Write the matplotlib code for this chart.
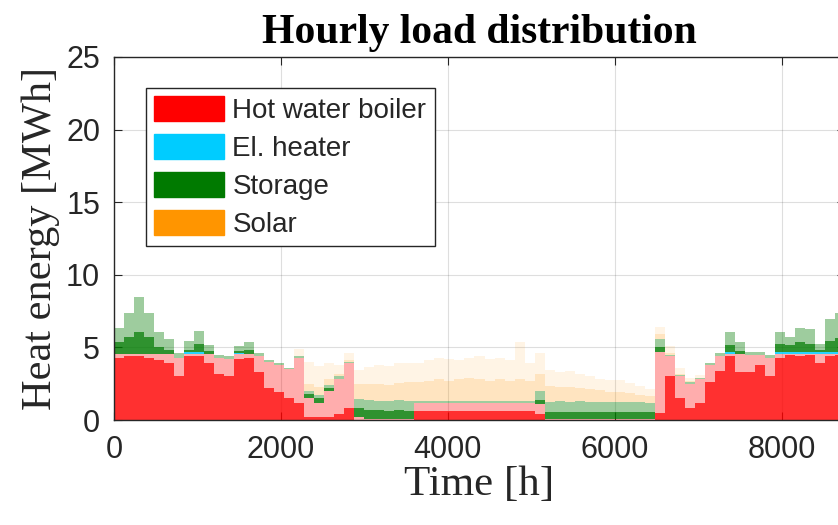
import numpy as np
import matplotlib.pyplot as plt
from matplotlib.patches import Patch

plt.rcParams['font.family'] = 'Liberation Sans'

# five-day blocks over one year (73 x 120 h)
hours = np.arange(0, 8761, 120)

# hot water boiler: dense level and spike level per block [MWh]
boiler_lo = np.array([
    4.3, 4.4, 4.4, 4.3, 4.1, 3.9, 3.0, 4.4, 4.4, 3.9,
    3.2, 3.0, 4.2, 4.3, 3.3, 2.2, 1.9, 1.5, 1.2, 0.2,
    0.2, 0.2, 0.4, 0.8, 0.0, 0.0, 0.0, 0.0, 0.0, 0.0,
    0.6, 0.6, 0.6, 0.6, 0.6, 0.6, 0.6, 0.6, 0.6, 0.6,
    0.6, 0.6, 0.4, 0.0, 0.0, 0.0, 0.0, 0.0, 0.0, 0.0,
    0.0, 0.0, 0.0, 0.0, 0.5, 3.0, 1.5, 0.8, 1.2, 2.6,
    3.4, 4.4, 3.3, 3.3, 3.8, 3.0, 4.3, 4.45, 4.4, 4.45,
    3.9, 4.4, 4.45])
boiler_hi = np.array([
    4.55, 4.55, 4.55, 4.55, 4.55, 4.55, 4.3, 4.55, 4.55, 4.55,
    4.3, 4.2, 4.55, 4.55, 4.4, 4.0, 3.8, 3.5, 4.3, 1.5,
    1.2, 2.0, 2.8, 3.9, 0.2, 0.1, 0.1, 0.1, 0.1, 0.1,
    1.2, 1.2, 1.2, 1.2, 1.2, 1.2, 1.2, 1.2, 1.2, 1.2,
    1.2, 1.2, 1.1, 0.05, 0.05, 0.05, 0.05, 0.05, 0.05, 0.05,
    0.05, 0.05, 0.05, 0.05, 4.7, 4.4, 3.0, 2.5, 2.8, 3.8,
    4.4, 4.55, 4.55, 4.5, 4.5, 4.3, 4.55, 4.55, 4.55, 4.55,
    4.55, 4.55, 4.55])

# electric heater
heater = np.array([
    0, 0, 0, 0, 0, 0, 0, 0.1, 0.1, 0,
    0, 0, 0.08, 0, 0, 0, 0, 0, 0, 0,
    0, 0, 0, 0, 0, 0, 0, 0, 0, 0,
    0, 0, 0, 0, 0, 0, 0, 0, 0, 0,
    0, 0, 0, 0, 0, 0, 0, 0, 0, 0,
    0, 0, 0, 0, 0, 0, 0, 0, 0, 0,
    0, 0.1, 0, 0, 0, 0, 0.1, 0.1, 0.1, 0.1,
    0.1, 0.1, 0.1])

# storage discharge
storage_lo = np.array([
    0.8, 1.2, 1.5, 1.2, 0.5, 0.3, 0.0, 0.2, 0.6, 0.2,
    0.0, 0.0, 0.1, 0.3, 0.0, 0.0, 0.0, 0.0, 0.0, 0.3,
    0.3, 0.2, 0.0, 0.0, 0.6, 0.6, 0.6, 0.5, 0.6, 0.5,
    0.0, 0.0, 0.0, 0.0, 0.0, 0.0, 0.0, 0.0, 0.0, 0.0,
    0.0, 0.0, 0.3, 0.5, 0.5, 0.5, 0.5, 0.5, 0.5, 0.5,
    0.5, 0.5, 0.5, 0.5, 0.3, 0.0, 0.0, 0.0, 0.0, 0.0,
    0.0, 0.5, 0.2, 0.0, 0.0, 0.0, 0.6, 0.5, 0.7, 0.6,
    0.2, 0.8, 1.0])
storage_hi = np.array([
    1.8, 2.8, 3.9, 2.8, 1.5, 1.0, 0.3, 0.8, 1.5, 0.6,
    0.2, 0.2, 0.5, 0.8, 0.2, 0.1, 0.1, 0.1, 0.1, 0.5,
    0.5, 0.4, 0.2, 0.1, 1.25, 1.25, 1.2, 1.2, 1.25, 1.2,
    0.1, 0.1, 0.1, 0.1, 0.1, 0.1, 0.1, 0.1, 0.1, 0.1,
    0.1, 0.1, 0.9, 1.2, 1.25, 1.2, 1.25, 1.2, 1.2, 1.2,
    1.2, 1.2, 1.2, 1.1, 0.9, 0.1, 0.1, 0.1, 0.1, 0.1,
    0.2, 1.4, 0.8, 0.2, 0.2, 0.2, 1.4, 1.1, 1.7, 1.6,
    0.6, 2.3, 2.7])

# solar collectors
solar_lo = np.array([
    0, 0, 0, 0, 0, 0, 0, 0, 0, 0,
    0, 0, 0, 0, 0, 0, 0, 0, 0, 0.5,
    0.6, 0.4, 0.2, 0.1, 1.0, 1.1, 1.2, 1.1, 1.2, 1.3,
    1.3, 1.4, 1.5, 1.4, 1.5, 1.6, 1.5, 1.4, 1.5, 1.4,
    1.5, 1.4, 1.2, 1.1, 1.0, 1.0, 0.9, 0.9, 0.8, 0.7,
    0.7, 0.6, 0.5, 0.5, 0.3, 0.1, 0.1, 0.1, 0, 0,
    0, 0, 0, 0, 0, 0, 0, 0, 0, 0,
    0, 0, 0])
solar_hi = np.array([
    0, 0, 0, 0, 0, 0, 0, 0, 0, 0,
    0, 0, 0, 0, 0, 0, 0, 0, 0.5, 2.0,
    2.0, 1.5, 0.8, 0.6, 2.0, 2.3, 2.5, 2.4, 2.6, 2.6,
    2.6, 2.8, 3.0, 2.9, 2.8, 3.0, 3.1, 2.9, 3.0, 2.8,
    4.1, 2.6, 2.6, 2.2, 2.0, 2.1, 1.9, 1.8, 1.6, 1.5,
    1.5, 1.3, 1.1, 1.0, 0.8, 0.6, 0.5, 0.3, 0.2, 0,
    0, 0, 0, 0, 0, 0, 0, 0, 0, 0,
    0, 0, 0])

labels = ['Hot water boiler', 'El. heater', 'Storage', 'Solar']
colors = ['#FF0000', '#00CCFF', '#007A00', '#FF9500']


def stair(v):
    return np.append(v, v[-1])


fig = plt.figure(figsize=(8.38, 5.25), dpi=100)
ax = fig.add_axes([114 / 838, 105 / 525, 731 / 838, 363 / 525])

layers = [
    (boiler_lo, boiler_hi, colors[0], 0.32, 0.72),
    (heater, heater, colors[1], 0.0, 0.85),
    (storage_lo, storage_hi, colors[2], 0.38, 0.70),
    (solar_lo, solar_hi, colors[3], 0.10, 0.16),
]

base = np.zeros(len(boiler_lo))
for lo, hi, c, a_hi, a_lo in layers:
    if a_hi > 0:
        ax.fill_between(hours, stair(base), stair(base + hi), step='post',
                        color=c, alpha=a_hi, lw=0)
    ax.fill_between(hours, stair(base), stair(base + lo), step='post',
                    color=c, alpha=a_lo, lw=0)
    base = base + hi

ax.set_xlim(0, 8760)
ax.set_ylim(0, 25)
ax.set_xticks([0, 2000, 4000, 6000, 8000])
ax.set_yticks([0, 5, 10, 15, 20, 25])
ax.set_axisbelow(True)
ax.grid(True, color='#262626', alpha=0.15, lw=0.8)

for s in ax.spines.values():
    s.set_color('#262626')
    s.set_linewidth(1.0)
ax.tick_params(direction='in', top=True, right=True, length=6, width=0.8,
               colors='#262626', labelsize=22)
ax.tick_params(axis='x', pad=11)
ax.tick_params(axis='y', pad=10)

ax.set_title('Hourly load distribution', fontfamily='Liberation Serif',
             fontweight='bold', fontsize=30, pad=10)
ax.set_xlabel('Time [h]', fontfamily='Liberation Serif', fontsize=31,
              color='#262626', labelpad=0)
ax.set_ylabel('Heat energy [MWh]', fontfamily='Liberation Serif', fontsize=30.5,
              color='#262626', labelpad=4)

handles = [Patch(facecolor=c, edgecolor=c, label=l) for c, l in zip(colors, labels)]
leg = ax.legend(handles=handles, loc='upper left', bbox_to_anchor=(0.044, 0.915),
                borderaxespad=0, fontsize=20, handlelength=2.5, handleheight=1.0,
                labelspacing=0.36, handletextpad=0.3, borderpad=0.3,
                fancybox=False, framealpha=1)
leg.get_frame().set_edgecolor('#262626')
leg.get_frame().set_linewidth(1.0)
for t in leg.get_texts():
    t.set_color('#262626')

fig.savefig('out.png', dpi=100)
